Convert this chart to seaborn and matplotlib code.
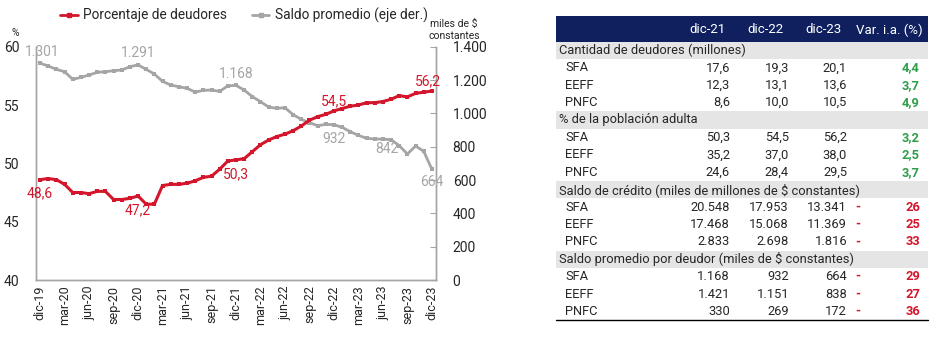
import numpy as np
import pandas as pd
import seaborn as sns
import matplotlib.pyplot as plt
from matplotlib.patches import Rectangle
from matplotlib.lines import Line2D

sns.set_style("white")
plt.rcParams['font.family'] = ['Roboto', 'DejaVu Sans']

# ---- chart data (dic-19 .. dic-23, monthly) ----
meses = ["ene", "feb", "mar", "abr", "may", "jun", "jul", "ago", "sep", "oct", "nov", "dic"]
periodos = ["dic-19"] + [m + "-" + str(a) for a in range(20, 24) for m in meses]

porc_deudores = [48.6, 48.7, 48.6, 48.2, 47.5, 47.5, 47.4, 47.6, 47.6, 46.9, 46.9, 47.0,
                 47.2, 46.5, 46.5, 48.1, 48.2, 48.2, 48.3, 48.5, 48.8, 48.9, 49.5, 50.2,
                 50.3, 50.4, 51.0, 51.6, 52.0, 52.3, 52.5, 52.8, 53.2, 53.7, 54.0, 54.2,
                 54.5, 54.7, 54.9, 55.0, 55.2, 55.2, 55.3, 55.5, 55.8, 55.7, 56.0, 56.1,
                 56.2]
saldo_promedio = [1301, 1284, 1264, 1250, 1204, 1216, 1230, 1246, 1250, 1256, 1260, 1280,
                  1291, 1264, 1236, 1192, 1170, 1160, 1150, 1128, 1138, 1140, 1132, 1165,
                  1168, 1140, 1100, 1070, 1038, 1030, 1034, 992, 964, 944, 926, 934,
                  932, 916, 890, 868, 850, 846, 845, 842, 806, 756, 804, 772,
                  664]

# labelled points: index -> label offset (points)
red_labels = {0: (0, -10), 12: (0, -10), 24: (0, -10.5), 36: (0, 7), 48: (-3, 7)}
gray_labels = {0: (1.5, 8), 12: (0, 8.5), 24: (0, 8.5), 36: (0, -10), 43: (-3, -7), 48: (0, -9)}

# ---- table data ----
tab_cols = ["dic-21", "dic-22", "dic-23", "Var. i.a. (%)"]
tab_sections = ["Cantidad de deudores (millones)",
                "% de la población adulta",
                "Saldo de crédito (miles de millones de $ constantes)",
                "Saldo promedio por deudor (miles de $ constantes)"]
tab_rows = ["SFA", "EEFF", "PNFC"]
deudores = [[17.6, 19.3, 20.1], [12.3, 13.1, 13.6], [8.6, 10.0, 10.5]]
poblacion = [[50.3, 54.5, 56.2], [35.2, 37.0, 38.0], [24.6, 28.4, 29.5]]
saldo_credito = [[20548, 17953, 13341], [17468, 15068, 11369], [2833, 2698, 1816]]
saldo_deudor = [[1168, 932, 664], [1421, 1151, 838], [330, 269, 172]]
var_ia = [[4.4, 3.7, 4.9], [3.2, 2.5, 3.7], [-26, -25, -33], [-29, -27, -36]]

RED = "#D3162B"
GRAY = "#A5A5A5"
NAVY = "#10205F"
GREEN = "#2E9E4A"


def fmt_dec(v):
    return f"{v:.1f}".replace(".", ",")


def fmt_int(v):
    return f"{v:,.0f}".replace(",", ".")


df = pd.DataFrame({"i": range(len(periodos)), "porc": porc_deudores, "saldo": saldo_promedio})

fig = plt.figure(figsize=(9.36, 3.42), dpi=100)
ax = fig.add_axes([36 / 936, 1 - 280 / 342, 400 / 936, 233.3 / 342])
ax2 = ax.twinx()

sns.lineplot(data=df, x="i", y="saldo", ax=ax2, color=GRAY, linewidth=2,
             marker="s", markersize=3.2, markeredgewidth=0)
sns.lineplot(data=df, x="i", y="porc", ax=ax, color=RED, linewidth=2.2,
             marker="s", markersize=3.2, markeredgewidth=0, zorder=5)
ax.set_zorder(ax2.get_zorder() + 1)
ax.patch.set_visible(False)

ax.set_xlim(-0.5, 48.5)
ax.set_ylim(40, 60)
ax2.set_ylim(0, 1400)
ax.set_xlabel("")
ax.set_ylabel("")
ax2.set_ylabel("")

ax.set_xticks(range(0, 49, 3))
ax.set_xticklabels([periodos[k] for k in range(0, 49, 3)], rotation=90, fontsize=9)
ax.set_xticks(np.arange(-0.5, 49, 1), minor=True)
ax.tick_params(axis="x", which="major", length=0, pad=4)
ax.tick_params(axis="x", which="minor", direction="in", length=4, color=GRAY, width=0.8)
ax.set_yticks(range(40, 61, 5))
ax.tick_params(axis="y", length=0, labelsize=10, pad=12)
ax2.set_yticks(range(0, 1401, 200))
ax2.set_yticklabels([fmt_int(v) for v in range(0, 1401, 200)])
ax2.tick_params(axis="y", direction="in", length=4, color=GRAY, labelsize=10, pad=12)

for a in (ax, ax2):
    a.spines["top"].set_visible(False)
    for s in ("left", "right", "bottom"):
        a.spines[s].set_color(GRAY)
        a.spines[s].set_linewidth(1)
    a.grid(False)

for k, off in red_labels.items():
    ax.annotate(fmt_dec(porc_deudores[k]), (k, porc_deudores[k]), xytext=off,
                textcoords="offset points", ha="center", va="center",
                color=RED, fontsize=10, zorder=6)
for k, off in gray_labels.items():
    ax2.annotate(fmt_int(saldo_promedio[k]), (k, saldo_promedio[k]), xytext=off,
                 textcoords="offset points", ha="center", va="center",
                 color=GRAY, fontsize=10)

fig.text(15 / 936, 1 - 33 / 342, "%", fontsize=7.5, ha="center", va="center")
fig.text(454 / 936, 1 - 30 / 342, "miles de $\nconstantes", fontsize=7.5,
         ha="center", va="center", linespacing=1.3)

handles = [Line2D([], [], color=RED, lw=2, marker="s", markersize=3),
           Line2D([], [], color=GRAY, lw=2, marker="s", markersize=3)]
fig.legend(handles, ["Porcentaje de deudores", "Saldo promedio (eje der.)"],
           loc="center", bbox_to_anchor=(244 / 936, 1 - 15 / 342), ncol=2,
           frameon=False, fontsize=9.8, handlelength=1.3, handletextpad=0.4,
           columnspacing=1.8)

# ---- table ----
tab = fig.add_axes([0, 0, 1, 1])
tab.set_xlim(0, 936)
tab.set_ylim(342, 0)
tab.axis("off")
tab.set_zorder(-1)

x0, x1 = 556, 928
top, hdr_h, row_h = 16, 25.7, 17.4
num_right = [730, 789, 847]
tab.add_patch(Rectangle((x0, top), x1 - x0, hdr_h, color=NAVY, lw=0))
for xr, c in zip([726, 784, 842, 923], tab_cols):
    tab.text(xr, top + hdr_h / 2 + 1, c, color="white", fontsize=9.5, ha="right", va="center")

blocks = [(deudores, fmt_dec), (poblacion, fmt_dec), (saldo_credito, fmt_int), (saldo_deudor, fmt_int)]
y = top + hdr_h
for s, (sec, (vals, f)) in enumerate(zip(tab_sections, blocks)):
    tab.add_patch(Rectangle((x0, y), x1 - x0, row_h, color="#E5E5E5", lw=0))
    tab.text(x0 + 3, y + row_h / 2, sec, fontsize=9.3, ha="left", va="center")
    y += row_h
    for r, name in enumerate(tab_rows):
        yc = y + row_h / 2
        tab.text(565, yc, name, fontsize=9.3, ha="left", va="center")
        for xr, v in zip(num_right, vals[r]):
            tab.text(xr, yc, f(v), fontsize=9.3, ha="right", va="center")
        v = var_ia[s][r]
        if v < 0:
            tab.text(858, yc, "-", fontsize=9.3, ha="center", va="center", color=RED, weight="bold")
            tab.text(920, yc, fmt_int(-v), fontsize=9.3, ha="right", va="center", color=RED, weight="bold")
        else:
            tab.text(920, yc, fmt_dec(v), fontsize=9.3, ha="right", va="center", color=GREEN, weight="bold")
        y += row_h
tab.plot([x0, x1], [y, y], color="black", lw=1)

fig.savefig("out.png", dpi=100)
